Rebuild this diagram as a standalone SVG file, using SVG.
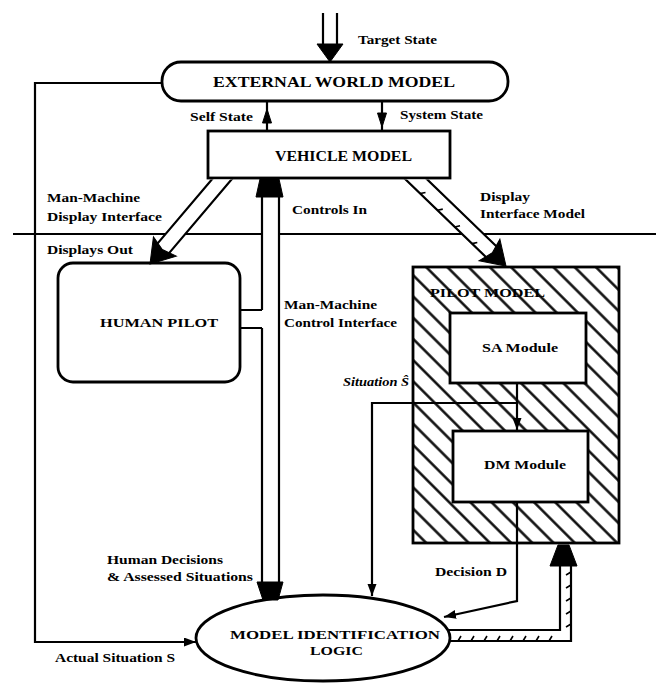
<svg xmlns="http://www.w3.org/2000/svg" width="656" height="684" viewBox="0 0 656 684">
<defs>
<style>
.ln{stroke:#000;stroke-width:2.2;fill:none}
.tk{stroke:#000;stroke-width:1.6;fill:none}
.box{fill:#fff;stroke:#000;stroke-width:2.8}
.hd{fill:#000;stroke:#000;stroke-width:1}
.wt{fill:#fff;stroke:none}
.lbl{font-family:"Liberation Serif",serif;font-weight:bold;font-size:12px;fill:#000}
.ttl{font-family:"Liberation Serif",serif;font-weight:bold;font-size:14px;fill:#000}
.nt{font-family:"Liberation Serif",serif;font-weight:bold;font-size:13px;fill:#000}
</style>
<marker id="ah" markerUnits="userSpaceOnUse" markerWidth="13" markerHeight="10" refX="12" refY="4.5" orient="auto">
<path d="M0,0 L12,4.5 L0,9 z" fill="#000"/>
</marker>
<pattern id="hatch" patternUnits="userSpaceOnUse" width="10" height="15" patternTransform="rotate(45)">
<rect width="10" height="15" fill="#fff"/>
<line x1="0" y1="7.5" x2="10" y2="7.5" stroke="#000" stroke-width="2.4"/>
</pattern>
<clipPath id="belowVehicle">
<rect x="0" y="179.4" width="656" height="505"/>
</clipPath>
</defs>
<rect width="656" height="684" fill="#fff"/>

<g id="divider">
<path class="ln" d="M13,234 H262 M279,234 H656"/>
</g>

<g id="external-world-model">
<rect class="box" x="162" y="62" width="346" height="39" rx="19" ry="19"/>
<text class="ttl" x="213" y="87" textLength="242" lengthAdjust="spacingAndGlyphs">EXTERNAL WORLD MODEL</text>
</g>

<g id="vehicle-model">
<rect class="box" x="208" y="131" width="242" height="47"/>
<text class="ttl" x="275" y="161" textLength="137" lengthAdjust="spacingAndGlyphs">VEHICLE MODEL</text>
</g>

<g id="human-pilot">
<rect class="box" x="58" y="263" width="182" height="119" rx="15" ry="15"/>
<text class="nt" x="100" y="327" textLength="118" lengthAdjust="spacingAndGlyphs">HUMAN PILOT</text>
</g>

<g id="pilot-model">
<rect x="413" y="267" width="206" height="276" fill="url(#hatch)" stroke="#000" stroke-width="2.8"/>
<text class="nt" x="430" y="297" textLength="115" lengthAdjust="spacingAndGlyphs">PILOT MODEL</text>
</g>

<g id="sa-module">
<rect class="box" x="450" y="313" width="136" height="70"/>
<text class="lbl" x="482" y="352" textLength="76" lengthAdjust="spacingAndGlyphs">SA Module</text>
</g>

<g id="dm-module">
<rect class="box" x="453" y="431" width="135" height="71"/>
<text class="lbl" x="484" y="469" textLength="82" lengthAdjust="spacingAndGlyphs">DM Module</text>
</g>

<g id="model-identification-logic">
<ellipse class="box" cx="323" cy="638" rx="127" ry="43"/>
<text class="nt" x="230" y="639" textLength="210" lengthAdjust="spacingAndGlyphs">MODEL IDENTIFICATION</text>
<text class="nt" x="310" y="655" textLength="53" lengthAdjust="spacingAndGlyphs">LOGIC</text>
</g>

<g id="connectors">
<!-- target state input -->
<path class="ln" d="M323,13 V48 M337,13 V48"/>
<polygon class="hd" points="317,44 343,44 330,62"/>
<!-- self state / system state -->
<path class="ln" d="M267,130 V102"/>
<polygon class="hd" points="267,109 262.5,123 271.5,123"/>
<path class="ln" d="M382,102 V130"/>
<polygon class="hd" points="382,127 377.5,113 386.5,113"/>
<!-- actual situation feedback -->
<path class="ln" d="M161,83 H35 V642 H196" marker-end="url(#ah)"/>
<!-- displays out -->
<g clip-path="url(#belowVehicle)">
<g transform="translate(150,264) rotate(130.3)">
<rect class="wt" x="-125" y="-7.5" width="106" height="15"/>
<path class="ln" d="M-125,-7.5 H-20 M-125,7.5 H-20"/>
<polygon class="hd" points="0,0 -23,-15 -19,0 -23,15"/>
</g>
</g>
<!-- display interface model (hatched) -->
<g clip-path="url(#belowVehicle)">
<g transform="translate(506,266) rotate(44)">
<rect class="wt" x="-135" y="-7.5" width="116" height="15"/>
<path class="ln" d="M-135,-7.5 H-20 M-135,7.5 H-20"/>
<path class="tk" d="M-112,7.5 L-109,3 M-88,7.5 L-85,3 M-64,7.5 L-61,3 M-40,7.5 L-37,3"/>
<polygon class="hd" points="0,0 -23,-15 -19,0 -23,15"/>
</g>
</g>
<!-- controls in / human decisions tube -->
<rect class="wt" x="263" y="196" width="15" height="387"/>
<path class="ln" d="M262,197 V310 M262,328 V583 M279,197 V583"/>
<path class="ln" d="M241,310 H262 M241,328 H262"/>
<polygon class="hd" points="256,197 283,197 279,179 260,179"/>
<polygon class="hd" points="257,582 283,582 278,600 263,600"/>
<!-- SA -> DM -->
<path class="ln" d="M517,384 V430" marker-end="url(#ah)"/>
<!-- situation estimate -->
<path class="ln" d="M517,403 H372 V596" marker-end="url(#ah)"/>
<!-- decision -->
<path class="ln" d="M517,503 V601 L444,617" marker-end="url(#ah)"/>
<!-- identification feedback (hatched) -->
<path class="ln" d="M560,565 V630 H448 M571,565 V641 H450"/>
<path class="tk" d="M458,641 L461,636 M471,641 L474,636 M484,641 L487,636 M497,641 L500,636 M510,641 L513,636 M523,641 L526,636 M536,641 L539,636 M549,641 L552,636 M571,572 L566,575 M571,585 L566,588 M571,598 L566,601 M571,611 L566,614 M571,624 L566,627"/>
<polygon class="hd" points="550,566 577,566 569,545 558,545"/>
</g>

<g id="labels">
<text class="lbl" x="358" y="44" textLength="79" lengthAdjust="spacingAndGlyphs">Target State</text>
<text class="lbl" x="190" y="121" textLength="63" lengthAdjust="spacingAndGlyphs">Self State</text>
<text class="lbl" x="400" y="119" textLength="83" lengthAdjust="spacingAndGlyphs">System State</text>
<text class="lbl" x="47" y="202" textLength="93" lengthAdjust="spacingAndGlyphs">Man-Machine</text>
<text class="lbl" x="47" y="221" textLength="115" lengthAdjust="spacingAndGlyphs">Display Interface</text>
<text class="lbl" x="292" y="214" textLength="75" lengthAdjust="spacingAndGlyphs">Controls In</text>
<text class="lbl" x="480" y="201" textLength="50" lengthAdjust="spacingAndGlyphs">Display</text>
<text class="lbl" x="480" y="218" textLength="105" lengthAdjust="spacingAndGlyphs">Interface Model</text>
<text class="lbl" x="47" y="254" textLength="86" lengthAdjust="spacingAndGlyphs">Displays Out</text>
<text class="lbl" x="284" y="309" textLength="93" lengthAdjust="spacingAndGlyphs">Man-Machine</text>
<text class="lbl" x="284" y="327" textLength="113" lengthAdjust="spacingAndGlyphs">Control Interface</text>
<text class="lbl" x="343" y="386" font-style="italic" textLength="66" lengthAdjust="spacingAndGlyphs">Situation Ŝ</text>
<text class="lbl" x="107" y="564" textLength="116" lengthAdjust="spacingAndGlyphs">Human Decisions</text>
<text class="lbl" x="107" y="581" textLength="146" lengthAdjust="spacingAndGlyphs">&amp; Assessed Situations</text>
<text class="lbl" x="435" y="576" textLength="72" lengthAdjust="spacingAndGlyphs">Decision D</text>
<text class="lbl" x="55" y="662" textLength="120" lengthAdjust="spacingAndGlyphs">Actual Situation S</text>
</g>
</svg>
